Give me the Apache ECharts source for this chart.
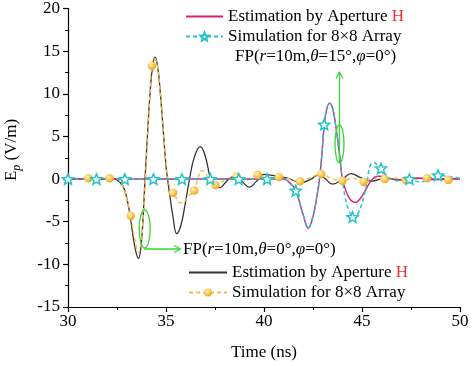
<!DOCTYPE html>
<html>
<head>
<meta charset="utf-8">
<script src="https://cdn.jsdelivr.net/npm/echarts@6/dist/echarts.min.js"></script>
<style>html,body{margin:0;padding:0;background:#fff;}#c{width:474px;height:366px;}</style>
</head>
<body>
<div id="c"></div>
<script>
// Estimation by Aperture H, FP(theta=0)
const tEst0 = [30,32.4,32.6,32.8,33.0,33.2,33.4,33.6,33.7,33.8,33.93,34.05,34.2,34.32,34.44,34.56,34.7,34.85,35.0,35.08,35.2,35.35,35.55,35.75,35.95,36.2,36.45,36.75,37.0,37.28,37.5,37.75,38.0,38.25,38.5,38.85,39.25,39.6,40.0,40.5,41.2,41.9,42.4,42.8,43.1,43.5,44.0,44.45,44.9,45.5,46.2,47.0,47.8,48.6,49.3,50];
const vEst0 = [0,0,-0.3,-0.8,-2.2,-4.8,-7.8,-9.3,-8.4,-5.8,0,5.0,10.5,13.3,14.3,13.4,10.4,6.0,1.5,0,-2.0,-4.3,-6.4,-5.5,-3.3,0,2.6,3.8,2.7,0,-0.8,-1.0,-0.5,0.1,0.3,-0.2,-0.95,-0.3,0.55,0.4,0.1,-0.4,0.0,0.5,0.1,-0.6,0.0,0.65,0.2,-0.25,0.1,-0.1,0.1,-0.05,0.05,0];
// Simulation for 8x8 Array, FP(theta=0)
const tSim0 = [30,31.04,32.12,32.5,32.8,33.0,33.2,33.4,33.6,33.72,33.82,33.93,34.05,34.18,34.28,34.42,34.56,34.7,34.85,35.0,35.1,35.2,35.36,35.55,35.75,35.95,36.15,36.44,36.6,36.82,37.0,37.25,37.52,37.8,38.1,38.6,39.1,39.68,40.2,40.76,41.3,41.84,42.4,42.92,43.4,44.0,44.5,45.08,45.6,46.16,46.7,47.24,47.8,48.32,48.9,49.4,50];
const vSim0 = [0.05,0.1,0.1,0,-0.8,-2.3,-4.3,-7.0,-8.6,-7.8,-5.0,-0.8,4.3,9.8,13.3,14.1,13.3,10.3,6.0,1.8,0,-0.9,-1.6,-2.3,-2.8,-2.6,-2.0,-1.35,-0.2,1.0,0.7,-0.2,-0.7,-0.4,0.0,0.3,-0.1,0.5,0.1,0.25,0.0,-0.25,0.2,0.6,0.1,-0.2,0.1,-0.3,0.1,0.0,0.1,-0.1,0.05,0.1,-0.05,-0.1,0];
const ballTimes = [31.04,32.12,33.2,34.28,35.36,36.44,37.52,38.6,39.68,40.76,41.84,42.92,44.0,45.08,46.16,47.24,48.32,49.4];
// Estimation by Aperture H, FP(theta=15)
const tEst15 = [30,41.0,41.25,41.5,41.62,41.8,42.0,42.26,42.5,42.7,42.83,42.95,43.07,43.2,43.35,43.5,43.65,43.8,43.9,44.0,44.2,44.4,44.65,44.9,45.2,45.5,45.8,46.1,46.5,47.0,47.5,48.0,48.5,49.0,49.5,50];
const vEst15 = [0,0,-0.3,-0.9,-1.3,-2.6,-4.2,-5.75,-4.4,-2.0,0,2.8,6.2,8.2,8.9,8.3,6.4,3.9,2.0,0,-1.5,-2.4,-2.75,-2.3,-1.2,-0.1,0.35,0.3,0.0,-0.1,0.05,0.1,0.0,-0.05,0.05,0];
// Simulation for 8x8 Array, FP(theta=15)
const tSim15 = [30,31.45,32.9,34.36,35.81,37.26,38.71,40.16,41.0,41.25,41.5,41.62,41.8,42.0,42.26,42.5,42.7,42.83,42.95,43.07,43.2,43.35,43.5,43.65,43.8,43.9,44.0,44.13,44.3,44.52,44.65,44.8,44.98,45.15,45.28,45.42,45.6,45.8,45.97,46.2,46.5,46.9,47.42,47.96,48.4,48.88,49.4,50];
const vSim15 = [0,0,0,0,0,0,0,0,0,-0.3,-0.9,-1.36,-2.6,-4.2,-5.7,-4.3,-2.0,0,2.8,6.4,8.2,8.9,8.3,6.4,3.9,2.0,0,-2.0,-3.5,-4.45,-4.6,-4.0,-3.0,-1.5,0,1.6,1.95,1.6,1.25,0.6,0,-0.2,0,-0.35,0,0.45,0.3,0.1];
const starTimes = [30,31.45,32.9,34.36,35.81,37.26,38.71,40.16,41.62,43.07,44.52,45.97,47.42,48.88];

const FONT = 'Liberation Serif';
const C_BLACK = '#333333', C_YEL = '#f0c048', C_MAG = '#d81b7e', C_CYAN = '#22c4c8', C_GREEN = '#38d838', C_RED = '#e8333a';
const STAR = 'path://M50,0L63.2,31.8L97.6,34.5L71.4,57L79.4,90.5L50,72.5L20.6,90.5L28.6,57L2.4,34.5L36.8,31.8Z';

function plain(ts, vs) { return ts.map((t, i) => [t, vs[i]]); }
function marked(ts, vs, marks) {
  return ts.map((t, i) => {
    const isM = marks.some(m => Math.abs(m - t) < 1e-6);
    return isM ? { value: [t, vs[i]] } : { value: [t, vs[i]], symbol: 'none' };
  });
}

const chart = echarts.init(document.getElementById('c'), null, { renderer: 'canvas' });
const legendText = {
  fontFamily: FONT, fontSize: 17, color: '#000', lineHeight: 17,
  rich: { h: { color: C_RED, fontFamily: FONT, fontSize: 17, lineHeight: 17 } }
};
const fmt = n => n.indexOf('est') === 0 ? 'Estimation by Aperture {h|H}' : 'Simulation for 8\u00d78 Array';
const axisCommon = {
  type: 'value',
  axisLine: { show: true, onZero: false, lineStyle: { color: '#000', width: 1.2 } },
  axisTick: { show: true, length: 5, lineStyle: { color: '#000', width: 1.2 } },
  minorTick: { show: true, splitNumber: 2, length: 3, lineStyle: { color: '#000', width: 1 } },
  splitLine: { show: false },
};
chart.setOption({
  animation: false,
  backgroundColor: '#fff',
  grid: { left: 68, right: 14, top: 8, bottom: 58 },
  xAxis: Object.assign({}, axisCommon, {
    min: 30, max: 50, interval: 5,
    axisLabel: { fontFamily: FONT, fontSize: 17, color: '#000', margin: 6 },
    name: 'Time (ns)', nameLocation: 'middle', nameGap: 37,
    nameTextStyle: { fontFamily: FONT, fontSize: 17, color: '#000' }
  }),
  yAxis: Object.assign({}, axisCommon, {
    min: -15, max: 20, interval: 5,
    axisLabel: { fontFamily: FONT, fontSize: 17, color: '#000', margin: 8 }
  }),
  legend: [
    { left: 180, top: 3, orient: 'vertical', itemWidth: 37, itemHeight: 10, itemGap: 3,
      selectedMode: false,
      data: [{ name: 'est15', itemStyle: { opacity: 0 } }, 'sim15'], formatter: fmt, textStyle: legendText },
    { left: 183, top: 259, orient: 'vertical', itemWidth: 38, itemHeight: 10, itemGap: 3,
      selectedMode: false,
      data: [{ name: 'est0', itemStyle: { opacity: 0 } }, 'sim0'], formatter: fmt, textStyle: legendText }
  ],
  series: [
    { name: 'est0', type: 'line', data: plain(tEst0, vEst0), smooth: 0.45,
      showSymbol: false, symbol: 'none', lineStyle: { color: C_BLACK, width: 1.3 }, itemStyle: { color: C_BLACK } },
    { name: 'sim0', type: 'line', data: marked(tSim0, vSim0, ballTimes), smooth: 0.45,
      showSymbol: true, showAllSymbol: true, symbol: 'circle', symbolSize: 8.5,
      lineStyle: { color: C_YEL, width: 1.5, type: [4, 3] },
      itemStyle: { color: { type: 'radial', x: 0.38, y: 0.35, r: 0.65,
        colorStops: [{ offset: 0, color: '#fff2b8' }, { offset: 1, color: '#eea915' }] } } },
    { name: 'est15', type: 'line', data: plain(tEst15, vEst15), smooth: 0.45,
      showSymbol: false, symbol: 'none', lineStyle: { color: C_MAG, width: 1.4 }, itemStyle: { color: C_MAG } },
    { name: 'sim15', type: 'line', data: marked(tSim15, vSim15, starTimes), smooth: 0.45,
      showSymbol: true, showAllSymbol: true, symbol: STAR, symbolSize: 11, symbolKeepAspect: true,
      lineStyle: { color: C_CYAN, width: 1.5, type: [4, 3] },
      itemStyle: { color: '#ffffff', borderColor: C_CYAN, borderWidth: 1.5 } }
  ],
  graphic: [
    { type: 'text', x: 12, y: 150, rotation: Math.PI / 2,
      style: { text: '{e|E}{p|p}{e| (V/m)}', align: 'center', verticalAlign: 'middle',
        rich: { e: { fontFamily: FONT, fontSize: 17, fill: '#000', lineHeight: 22 },
                p: { fontFamily: FONT, fontSize: 12, fontStyle: 'italic', fill: '#000', verticalAlign: 'bottom' } } } },
    { type: 'text', x: 235, y: 57,
      style: { text: 'FP({i|r}=10m,{i|\u03b8}=15\u00b0,{i|\u03c6}=0\u00b0)', verticalAlign: 'middle',
        font: '17px "Liberation Serif"', fill: '#000',
        rich: { i: { fontFamily: FONT, fontSize: 17, fontStyle: 'italic', fill: '#000' } } } },
    { type: 'text', x: 183, y: 250,
      style: { text: 'FP({i|r}=10m,{i|\u03b8}=0\u00b0,{i|\u03c6}=0\u00b0)', verticalAlign: 'middle',
        font: '17px "Liberation Serif"', fill: '#000',
        rich: { i: { fontFamily: FONT, fontSize: 17, fontStyle: 'italic', fill: '#000' } } } },
    { type: 'ellipse', shape: { cx: 144.7, cy: 229, rx: 5.5, ry: 19 }, z: 100,
      style: { fill: 'none', stroke: C_GREEN, lineWidth: 1.3 } },
    { type: 'polyline', shape: { points: [[145, 248], [145, 249], [180, 249]] }, z: 100,
      style: { fill: 'none', stroke: C_GREEN, lineWidth: 1.3 } },
    { type: 'polyline', shape: { points: [[174, 245.5], [180.5, 249], [174, 252.5]] }, z: 100,
      style: { fill: 'none', stroke: C_GREEN, lineWidth: 1.3 } },
    { type: 'ellipse', shape: { cx: 339.5, cy: 144, rx: 4.5, ry: 19 }, z: 100,
      style: { fill: 'none', stroke: C_GREEN, lineWidth: 1.3 } },
    { type: 'line', shape: { x1: 339.5, y1: 163, x2: 339.5, y2: 72 }, z: 100,
      style: { stroke: C_GREEN, lineWidth: 1.3 } },
    { type: 'polyline', shape: { points: [[336, 78.5], [339.5, 72], [343, 78.5]] }, z: 100,
      style: { fill: 'none', stroke: C_GREEN, lineWidth: 1.3 } }
  ]
});
</script>
</body>
</html>
